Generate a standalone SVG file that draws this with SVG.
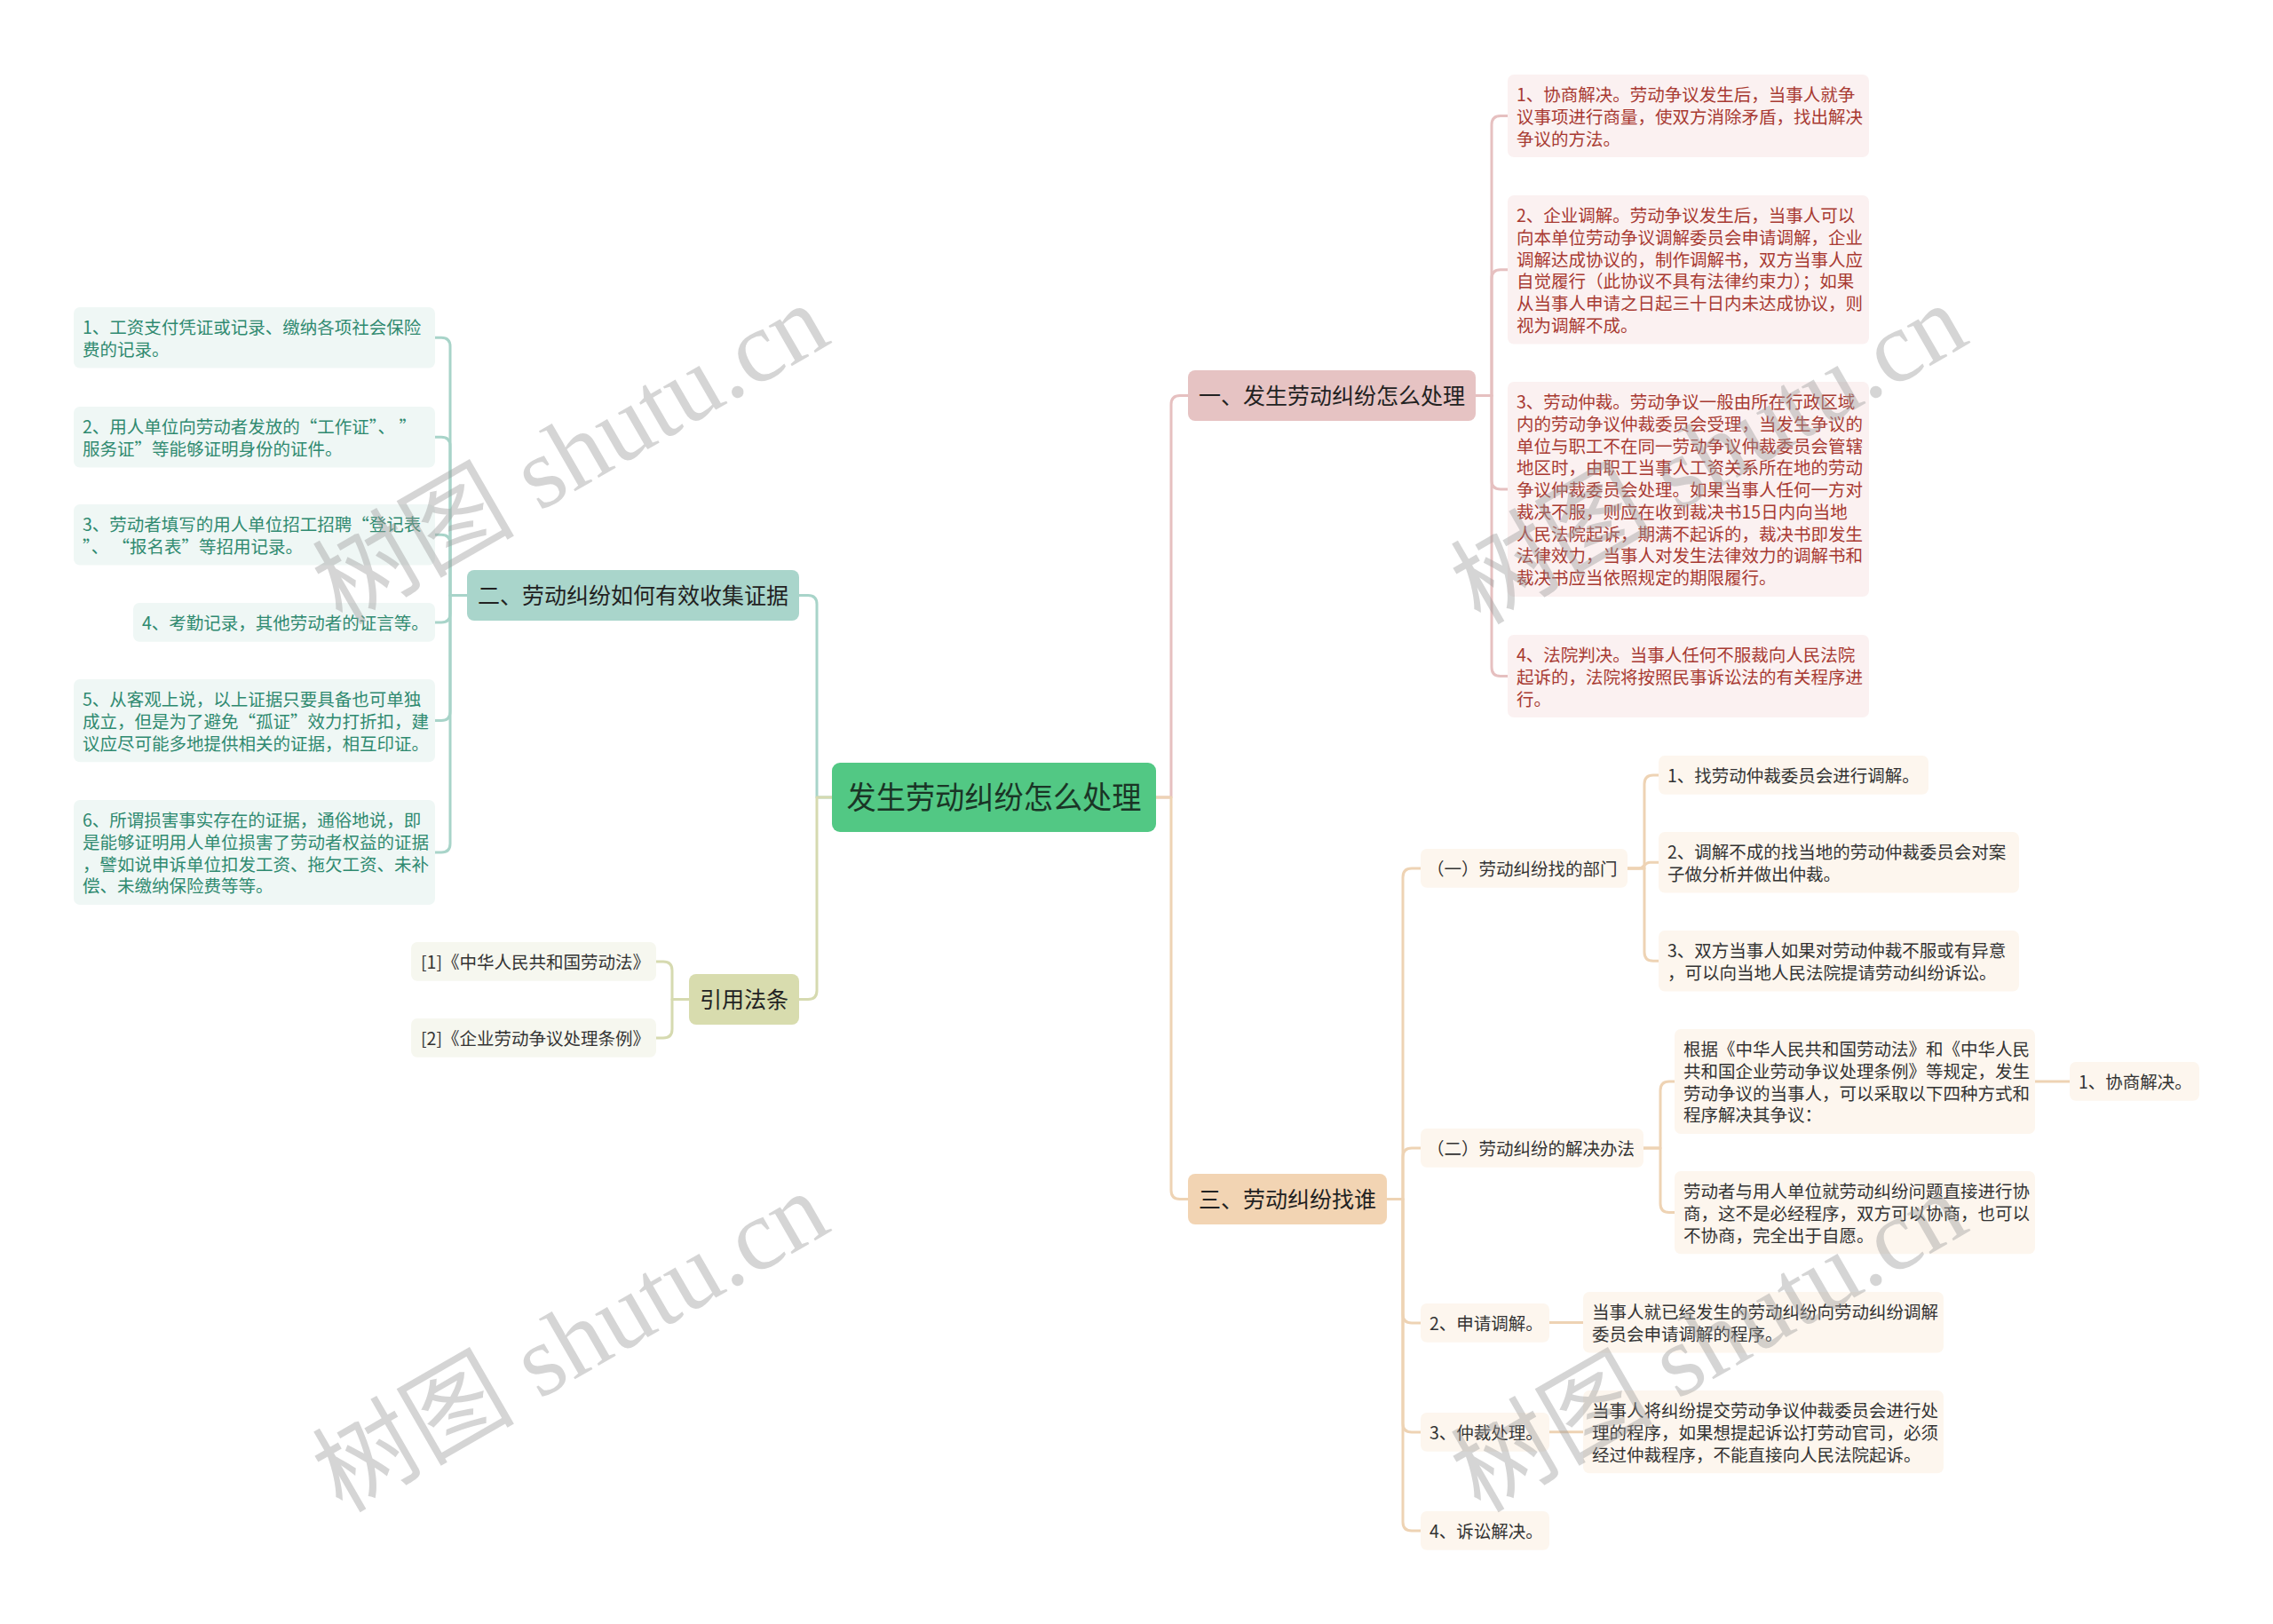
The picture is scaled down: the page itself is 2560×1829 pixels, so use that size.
<svg xmlns="http://www.w3.org/2000/svg" width="2560" height="1829" viewBox="0 0 2560 1829">
<style>
text{font-family:"Noto Sans CJK SC","Microsoft YaHei",sans-serif;}
.c{fill:none;stroke-width:3;stroke-linecap:round;stroke-linejoin:round;}
.pk{stroke:#e6c0c0;}
.tl{stroke:#a8d4c9;}
.kh{stroke:#d6dab0;}
.tn{stroke:#eed3b4;}
.t1{font-size:25px;fill:#222;text-anchor:middle;}
.t0{font-size:35px;fill:#1a3526;text-anchor:middle;}
.lf{font-size:19.5px;}
.rpk{fill:#fbf1f1;}
.rtl{fill:#eff7f5;}
.rkh{fill:#f6f7ef;}
.rtn{fill:#fdf6ee;}
.fpk{fill:#a83a32;}
.ftl{fill:#2f8a70;}
.fdk{fill:#333;}
.wm{font-family:"Liberation Serif","Noto Sans CJK SC",serif;font-size:114px;fill:#9a9a9a;fill-opacity:0.42;text-anchor:middle;}
</style>
<rect x="0" y="0" width="2560" height="1829" fill="#ffffff"/>
<g id="connectors">
<path class="c pk" d="M1302,898 H1319 V455.5 Q1319,445.5 1329,445.5 H1338"/>
<path class="c tn" d="M1302,898 H1319 V1340.5 Q1319,1350.5 1329,1350.5 H1338"/>
<path class="c tl" d="M937,898 H920 V680.5 Q920,670.5 910,670.5 H900"/>
<path class="c kh" d="M937,898 H920 V1115.5 Q920,1125.5 910,1125.5 H900"/>
<path class="c pk" d="M1662,445.5 H1680 V140.5 Q1680,130.5 1690,130.5 H1698"/>
<path class="c pk" d="M1662,445.5 H1680 V313.75 Q1680,303.75 1690,303.75 H1698"/>
<path class="c pk" d="M1662,445.5 H1680 V541 Q1680,551 1690,551 H1698"/>
<path class="c pk" d="M1662,445.5 H1680 V751.5 Q1680,761.5 1690,761.5 H1698"/>
<path class="c tl" d="M526,670.5 H507 V390.25 Q507,380.25 497,380.25 H490"/>
<path class="c tl" d="M526,670.5 H507 V502.25 Q507,492.25 497,492.25 H490"/>
<path class="c tl" d="M526,670.5 H507 V612.25 Q507,602.25 497,602.25 H490"/>
<path class="c tl" d="M526,670.5 H507 V690.9 Q507,700.9 497,700.9 H490"/>
<path class="c tl" d="M526,670.5 H507 V801.6 Q507,811.6 497,811.6 H490"/>
<path class="c tl" d="M526,670.5 H507 V950 Q507,960 497,960 H490"/>
<path class="c kh" d="M776,1125.5 H757 V1092.9 Q757,1082.9 747,1082.9 H739"/>
<path class="c kh" d="M776,1125.5 H757 V1158.9 Q757,1168.9 747,1168.9 H739"/>
<path class="c tn" d="M1562,1350.5 H1580 V987.9 Q1580,977.9 1590,977.9 H1600"/>
<path class="c tn" d="M1562,1350.5 H1580 V1302.9 Q1580,1292.9 1590,1292.9 H1600"/>
<path class="c tn" d="M1562,1350.5 H1580 V1479.9 Q1580,1489.9 1590,1489.9 H1600"/>
<path class="c tn" d="M1562,1350.5 H1580 V1602.9 Q1580,1612.9 1590,1612.9 H1600"/>
<path class="c tn" d="M1562,1350.5 H1580 V1713.9 Q1580,1723.9 1590,1723.9 H1600"/>
<path class="c tn" d="M1833,977.9 H1852 V882.9 Q1852,872.9 1862,872.9 H1868"/>
<path class="c tn" d="M1833,977.9 H1846 C1852,977.9 1852,971.25 1858,971.25 H1868"/>
<path class="c tn" d="M1833,977.9 H1852 V1072.25 Q1852,1082.25 1862,1082.25 H1868"/>
<path class="c tn" d="M1851,1292.9 H1870 V1228 Q1870,1218 1880,1218 H1886"/>
<path class="c tn" d="M1851,1292.9 H1870 V1355.6 Q1870,1365.6 1880,1365.6 H1886"/>
<path class="c tn" d="M2292,1218 H2331"/>
<path class="c tn" d="M1745,1489.6 H1783"/>
<path class="c tn" d="M1745,1612.8 H1783"/>
</g>

<g id="center">
<rect x="937" y="859" width="365" height="78" rx="9" fill="#52c884"/>
<text class="t0" x="1119.5" y="911" textLength="332" lengthAdjust="spacingAndGlyphs">发生劳动纠纷怎么处理</text>
</g>

<g id="n1">
<rect x="1338" y="417" width="324" height="57" rx="8" fill="#e6c3c3"/>
<text class="t1" x="1500" y="454.5">一、发生劳动纠纷怎么处理</text>
</g>
<g id="n1-1">
<rect class="rpk" x="1698" y="84" width="407" height="93" rx="7"/>
<text class="lf fpk"><tspan x="1708" y="114">1、协商解决。劳动争议发生后，当事人就争</tspan><tspan x="1708" y="138.75">议事项进行商量，使双方消除矛盾，找出解决</tspan><tspan x="1708" y="163.5">争议的方法。</tspan></text>
</g>
<g id="n1-2">
<rect class="rpk" x="1698" y="220" width="407" height="167.5" rx="7"/>
<text class="lf fpk"><tspan x="1708" y="250">2、企业调解。劳动争议发生后，当事人可以</tspan><tspan x="1708" y="274.75">向本单位劳动争议调解委员会申请调解，企业</tspan><tspan x="1708" y="299.5">调解达成协议的，制作调解书，双方当事人应</tspan><tspan x="1708" y="324.25">自觉履行（此协议不具有法律约束力）；如果</tspan><tspan x="1708" y="349">从当事人申请之日起三十日内未达成协议，则</tspan><tspan x="1708" y="373.75">视为调解不成。</tspan></text>
</g>
<g id="n1-3">
<rect class="rpk" x="1698" y="430" width="407" height="242" rx="7"/>
<text class="lf fpk"><tspan x="1708" y="460">3、劳动仲裁。劳动争议一般由所在行政区域</tspan><tspan x="1708" y="484.75">内的劳动争议仲裁委员会受理，当发生争议的</tspan><tspan x="1708" y="509.5">单位与职工不在同一劳动争议仲裁委员会管辖</tspan><tspan x="1708" y="534.25">地区时，由职工当事人工资关系所在地的劳动</tspan><tspan x="1708" y="559">争议仲裁委员会处理。如果当事人任何一方对</tspan><tspan x="1708" y="583.75">裁决不服，则应在收到裁决书15日内向当地</tspan><tspan x="1708" y="608.5">人民法院起诉，期满不起诉的，裁决书即发生</tspan><tspan x="1708" y="633.25">法律效力，当事人对发生法律效力的调解书和</tspan><tspan x="1708" y="658">裁决书应当依照规定的期限履行。</tspan></text>
</g>
<g id="n1-4">
<rect class="rpk" x="1698" y="715" width="407" height="93" rx="7"/>
<text class="lf fpk"><tspan x="1708" y="745">4、法院判决。当事人任何不服裁向人民法院</tspan><tspan x="1708" y="769.75">起诉的，法院将按照民事诉讼法的有关程序进</tspan><tspan x="1708" y="794.5">行。</tspan></text>
</g>

<g id="n2">
<rect x="526" y="642" width="374" height="57" rx="8" fill="#a9d5cb"/>
<text class="t1" x="713" y="679.5">二、劳动纠纷如何有效收集证据</text>
</g>
<g id="n2-1">
<rect class="rtl" x="83" y="346" width="407" height="68.5" rx="7"/>
<text class="lf ftl"><tspan x="93" y="376">1、工资支付凭证或记录、缴纳各项社会保险</tspan><tspan x="93" y="400.75">费的记录。</tspan></text>
</g>
<g id="n2-2">
<rect class="rtl" x="83" y="458" width="407" height="68.5" rx="7"/>
<text class="lf ftl"><tspan x="93" y="488">2、用人单位向劳动者发放的“工作证”、  ”</tspan><tspan x="93" y="512.75">服务证”等能够证明身份的证件。</tspan></text>
</g>
<g id="n2-3">
<rect class="rtl" x="83" y="568" width="407" height="68.5" rx="7"/>
<text class="lf ftl"><tspan x="93" y="598">3、劳动者填写的用人单位招工招聘“登记表</tspan><tspan x="93" y="622.75">”、 “报名表”等招用记录。</tspan></text>
</g>
<g id="n2-4">
<rect class="rtl" x="150" y="679" width="340" height="43.75" rx="7"/>
<text class="lf ftl" x="160" y="709">4、考勤记录，其他劳动者的证言等。</text>
</g>
<g id="n2-5">
<rect class="rtl" x="83" y="765" width="407" height="93.25" rx="7"/>
<text class="lf ftl"><tspan x="93" y="795">5、从客观上说，以上证据只要具备也可单独</tspan><tspan x="93" y="819.75">成立，但是为了避免“孤证”效力打折扣，建</tspan><tspan x="93" y="844.5">议应尽可能多地提供相关的证据，相互印证。</tspan></text>
</g>
<g id="n2-6">
<rect class="rtl" x="83" y="901" width="407" height="118" rx="7"/>
<text class="lf ftl"><tspan x="93" y="931">6、所谓损害事实存在的证据，通俗地说，即</tspan><tspan x="93" y="955.75">是能够证明用人单位损害了劳动者权益的证据</tspan><tspan x="93" y="980.5">，譬如说申诉单位扣发工资、拖欠工资、未补</tspan><tspan x="93" y="1005.25">偿、未缴纳保险费等等。</tspan></text>
</g>

<g id="n4">
<rect x="776" y="1097" width="124" height="57" rx="8" fill="#d8dcae"/>
<text class="t1" x="838" y="1134.5">引用法条</text>
</g>
<g id="n4-1">
<rect class="rkh" x="463" y="1061" width="276" height="43.75" rx="7"/>
<text class="lf fdk" x="474" y="1091">[1]《中华人民共和国劳动法》</text>
</g>
<g id="n4-2">
<rect class="rkh" x="463" y="1147" width="276" height="43.75" rx="7"/>
<text class="lf fdk" x="474" y="1177">[2]《企业劳动争议处理条例》</text>
</g>

<g id="n3">
<rect x="1338" y="1322" width="224" height="57" rx="8" fill="#f2d4b3"/>
<text class="t1" x="1450" y="1359.5">三、劳动纠纷找谁</text>
</g>
<g id="n3-1">
<rect class="rtn" x="1600" y="956" width="233" height="43.75" rx="7"/>
<text class="lf fdk" x="1607" y="986">（一）劳动纠纷找的部门</text>
</g>
<g id="n3-1-1">
<rect class="rtn" x="1868" y="851" width="304" height="43.75" rx="7"/>
<text class="lf fdk" x="1878" y="881">1、找劳动仲裁委员会进行调解。</text>
</g>
<g id="n3-1-2">
<rect class="rtn" x="1868" y="937" width="406" height="68.5" rx="7"/>
<text class="lf fdk"><tspan x="1878" y="967">2、调解不成的找当地的劳动仲裁委员会对案</tspan><tspan x="1878" y="991.75">子做分析并做出仲裁。</tspan></text>
</g>
<g id="n3-1-3">
<rect class="rtn" x="1868" y="1048" width="406" height="68.5" rx="7"/>
<text class="lf fdk"><tspan x="1878" y="1078">3、双方当事人如果对劳动仲裁不服或有异意</tspan><tspan x="1878" y="1102.75">，可以向当地人民法院提请劳动纠纷诉讼。</tspan></text>
</g>
<g id="n3-2">
<rect class="rtn" x="1600" y="1271" width="251" height="43.75" rx="7"/>
<text class="lf fdk" x="1607" y="1301">（二）劳动纠纷的解决办法</text>
</g>
<g id="n3-2-1">
<rect class="rtn" x="1886" y="1159" width="406" height="118" rx="7"/>
<text class="lf fdk"><tspan x="1896" y="1189">根据《中华人民共和国劳动法》和《中华人民</tspan><tspan x="1896" y="1213.75">共和国企业劳动争议处理条例》等规定，发生</tspan><tspan x="1896" y="1238.5">劳动争议的当事人，可以采取以下四种方式和</tspan><tspan x="1896" y="1263.25">程序解决其争议：</tspan></text>
</g>
<g id="n3-2-1-1">
<rect class="rtn" x="2331" y="1196" width="146" height="43.75" rx="7"/>
<text class="lf fdk" x="2341" y="1226">1、协商解决。</text>
</g>
<g id="n3-2-2">
<rect class="rtn" x="1886" y="1319" width="406" height="93.25" rx="7"/>
<text class="lf fdk"><tspan x="1896" y="1349">劳动者与用人单位就劳动纠纷问题直接进行协</tspan><tspan x="1896" y="1373.75">商，这不是必经程序，双方可以协商，也可以</tspan><tspan x="1896" y="1398.5">不协商，完全出于自愿。</tspan></text>
</g>
<g id="n3-3">
<rect class="rtn" x="1600" y="1468" width="145" height="43.75" rx="7"/>
<text class="lf fdk" x="1610" y="1498">2、申请调解。</text>
</g>
<g id="n3-3-1">
<rect class="rtn" x="1783" y="1455" width="406" height="68.5" rx="7"/>
<text class="lf fdk"><tspan x="1793" y="1485">当事人就已经发生的劳动纠纷向劳动纠纷调解</tspan><tspan x="1793" y="1509.75">委员会申请调解的程序。</tspan></text>
</g>
<g id="n3-4">
<rect class="rtn" x="1600" y="1591" width="145" height="43.75" rx="7"/>
<text class="lf fdk" x="1610" y="1621">3、仲裁处理。</text>
</g>
<g id="n3-4-1">
<rect class="rtn" x="1783" y="1566" width="406" height="93.25" rx="7"/>
<text class="lf fdk"><tspan x="1793" y="1596">当事人将纠纷提交劳动争议仲裁委员会进行处</tspan><tspan x="1793" y="1620.75">理的程序，如果想提起诉讼打劳动官司，必须</tspan><tspan x="1793" y="1645.5">经过仲裁程序，不能直接向人民法院起诉。</tspan></text>
</g>
<g id="n3-5">
<rect class="rtn" x="1600" y="1702" width="145" height="43.75" rx="7"/>
<text class="lf fdk" x="1610" y="1732">4、诉讼解决。</text>
</g>

<g id="watermark">
<text class="wm" transform="translate(643,512) rotate(-30)" x="0" y="38">树图 shutu.cn</text>
<text class="wm" transform="translate(643,1512) rotate(-30)" x="0" y="38">树图 shutu.cn</text>
<text class="wm" transform="translate(1925,512) rotate(-30)" x="0" y="38">树图 shutu.cn</text>
<text class="wm" transform="translate(1925,1512) rotate(-30)" x="0" y="38">树图 shutu.cn</text>
</g>
</svg>
